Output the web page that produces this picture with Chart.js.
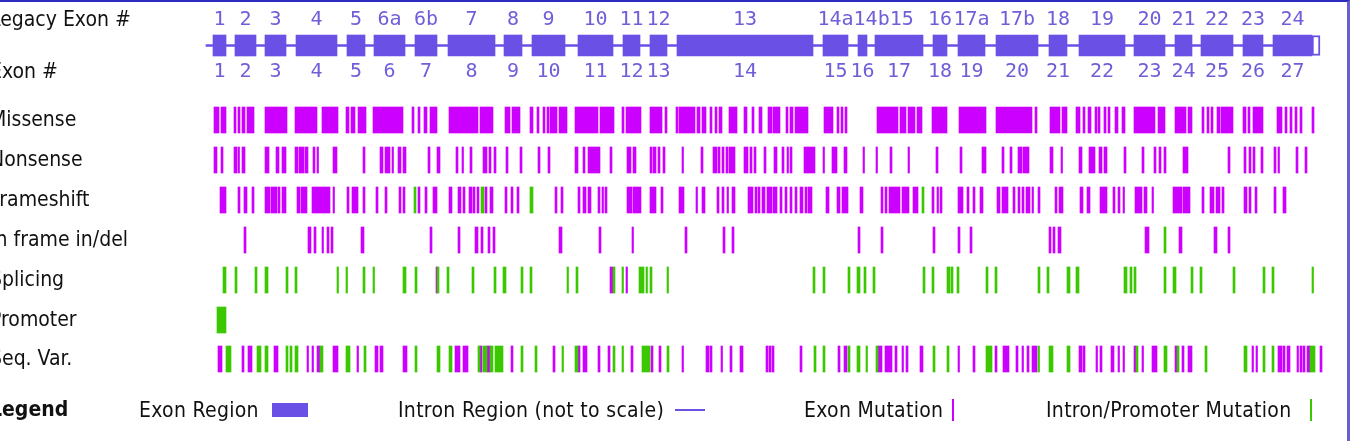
<!DOCTYPE html>
<html>
<head>
<meta charset="utf-8">
<script src="https://cdn.jsdelivr.net/npm/chart.js@4.4.1/dist/chart.umd.min.js"></script>
<style>
  html, body { margin: 0; padding: 0; background: #fff; overflow: hidden; }
  #page { position: relative; width: 1350px; height: 441px; overflow: hidden; }
  #wrap { position: absolute; left: -10px; top: 0; width: 1360px; height: 441px; }
  #frame { position: absolute; left: 0; top: 0; width: 1350px; height: 441px; box-sizing: border-box;
           border-top: 2px solid #2b2bc0; border-right: 3px solid #6a5fd0; pointer-events: none; }
  .lg { position: absolute; top: 398px; line-height: 24px; color: #111; white-space: nowrap; letter-spacing: 0.3px;
        font-family: 'DejaVu Sans Condensed', 'Liberation Sans Narrow', 'DejaVu Sans', sans-serif; font-size: 21px; }
  .sw { position: absolute; }
</style>
</head>
<body>
<div id="page">
  <div id="wrap"><canvas id="geneChart"></canvas></div>
  <span class="lg" style="left:139px">Exon Region</span>
  <span class="sw" style="left:272px;top:403px;width:36px;height:14px;background:#6b50e6"></span>
  <span class="lg" style="left:398px">Intron Region (not to scale)</span>
  <span class="sw" style="left:675px;top:409px;width:30px;height:2px;background:#6b50e6"></span>
  <span class="lg" style="left:804px">Exon Mutation</span>
  <span class="sw" style="left:952px;top:399px;width:2px;height:22px;background:#cc00ff"></span>
  <span class="lg" style="left:1046px">Intron/Promoter Mutation</span>
  <span class="sw" style="left:1310px;top:399px;width:2px;height:22px;background:#3cc800"></span>
  <div id="frame"></div>
</div>
<script>
// rows (y positions on the map) and their labels
const rowValues = [20, 72, 120, 160, 200, 240, 280, 320, 359, 410];
const rowNames = ['Legacy Exon #', 'Exon #', 'Missense', 'Nonsense', 'Frameshift',
  'In frame in/del', 'Splicing', 'Promoter', 'Seq. Var.', 'Legend'];
const trackRow = 45.5;

// exons, in map units along the gene
const exonStart = [213, 235, 265, 296, 347, 374, 415, 448, 504, 532, 578, 623, 650, 677,
  823, 858, 875, 933, 958, 996, 1049, 1079, 1134, 1175, 1201, 1243, 1273];
const exonEnd = [226, 256, 286, 337, 365, 405, 437, 495, 522, 565, 613, 640, 667, 813,
  848, 867, 923, 947, 985, 1038, 1067, 1125, 1165, 1192, 1233, 1263, 1312];
const legacyNames = ['1', '2', '3', '4', '5', '6a', '6b', '7', '8', '9', '10', '11', '12', '13',
  '14a', '14b', '15', '16', '17a', '17b', '18', '19', '20', '21', '22', '23', '24'];
const exonNames = exonStart.map((s, i) => String(i + 1));
const intron = [206, 1312];
const utr = [1312, 1320];

// mutations: [start, end] spans
const missense = [[214,219],[221,226],[234,236],[238,240],[242,245],[247,254],[265,287],[295,317],[322,338],[346,349],[351,355],[358,366],[373,403],[412,414],[418,420],[424,427],[430,437],[449,478],[480,493],[505,510],[512,520],[530,533],[537,539],[543,545],[547,549],[550,557],[559,567],[575,598],[600,614],[622,624],[626,641],[650,662],[665,667],[676,678],[679,695],[697,700],[702,706],[710,712],[715,717],[719,722],[729,737],[744,747],[752,754],[759,762],[768,772],[773,780],[786,788],[790,793],[795,808],[824,833],[837,839],[841,843],[845,847],[877,898],[900,906],[908,915],[917,922],[932,947],[959,986],[996,1032],[1035,1037],[1050,1060],[1062,1067],[1076,1080],[1083,1085],[1088,1091],[1095,1097],[1098,1100],[1104,1106],[1108,1110],[1115,1118],[1122,1125],[1134,1155],[1158,1165],[1175,1186],[1188,1192],[1202,1204],[1207,1209],[1211,1213],[1217,1220],[1221,1233],[1243,1246],[1248,1250],[1253,1263],[1277,1282],[1285,1287],[1290,1292],[1295,1297],[1300,1302],[1312,1314]];
const nonsense = [[214,217],[221,223],[234,237],[238,239.5],[242,245],[265,269],[276,279],[282,286],[295,298],[299,304],[305,308],[313,315],[317,318.5],[333,337],[363,365],[380,383],[385,390],[392,393.5],[398,401],[403,406],[428,430],[437,440],[456,458],[462,463.5],[470,472],[483,487],[489,491],[494,496],[506,508],[520,522],[538,540],[548,550],[575,578],[583,585],[588,600],[610,612],[627,631],[633,636],[650,652],[653,656],[658,660],[663,665],[682,683.5],[701,703],[713,717],[718,720],[722,724],[726,728],[729,735],[744,748],[750,752],[754,756],[764,766],[774,777],[782,784],[787,788.5],[790,792],[804,815],[823,824.5],[832,837],[844,847],[863,864.5],[876,877.5],[890,892],[908,909.5],[936,938],[960,962],[982,986],[1002,1004],[1010,1012],[1018,1022],[1023,1029],[1050,1053],[1061,1062.5],[1079,1082],[1089,1095],[1099,1102],[1104,1107],[1124,1126],[1142,1144],[1154,1156],[1159,1161],[1164,1166],[1183,1188],[1228,1230],[1244,1246],[1249,1251],[1253,1255],[1261,1263],[1274,1276],[1278,1279.5],[1296,1298],[1305,1307]];
const frameshift = [[220,226],[238,240],[244,247],[252,254],[265,270],[271,277],[278,280],[282,286],[297,300],[301,307],[312,330],[333,334.5],[347,349],[352,358],[363,365],[376,378],[385,387],[399,401],[403,405],[418,420],[425,427],[433,437],[449,452],[458,461],[463,465],[469,472],[473,475],[477,479],[485,487],[490,493],[505,507],[511,513],[517,519],[555,557],[561,563],[578,580],[583,586],[588,591],[598,600],[602,603.5],[605,607],[627,632],[633,641],[650,656],[661,663],[679,684],[696,697.5],[702,705],[717,719],[722,724],[727,728.5],[732,735],[748,753],[755,757],[758,760],[762,765],[767,772],[773,777],[780,782],[785,787],[790,792],[795,797],[800,803],[805,807],[808,812],[826,829],[837,840],[842,848],[860,863],[881,883],[885,887],[889,900],[902,909],[913,918],[932,934],[937,938.5],[940,942],[958,963],[967,969],[973,975],[980,983],[997,1000],[1002,1008],[1013,1015],[1018,1020],[1022,1024],[1026,1030],[1032,1033.5],[1038,1040],[1055,1057],[1059,1063],[1080,1083],[1087,1090],[1100,1107],[1113,1115],[1118,1120],[1123,1124.5],[1135,1142],[1144,1147],[1152,1153.5],[1173,1182],[1183,1190],[1202,1204],[1210,1214],[1216,1220],[1222,1224],[1244,1247],[1249,1251],[1255,1257],[1274,1276],[1283,1286]];
const frameshiftIntron = [[414,416],[481,484],[530,533],[922,924]];
const inframe = [[244,246],[308,311],[314,316],[322,323.5],[327,329],[331,333],[361,364],[430,432],[458,460],[475,478],[481,483],[488,490],[493,495],[559,562],[599,601],[632,633.5],[685,687],[723,725],[732,734],[858,860],[881,883],[933,935],[958,960],[970,972],[1049,1051],[1053,1055],[1058,1061],[1145,1149],[1179,1182],[1214,1217],[1228,1230]];
const inframeIntron = [[1164,1166]];
const splicing = [[436,437.5],[610,613],[626,627.5]];
const splicingIntron = [[223,226],[235,237],[255,257],[265,268],[286,288],[295,297],[337,338.5],[346,347.5],[363,365],[373,374.5],[403,406],[415,417],[437,439],[447,449],[472,474],[494,496],[503,506],[521,523],[530,532],[567,568.5],[576,578],[613,615],[622,623.5],[639,644],[646,647.5],[650,652],[667,668.5],[813,815],[823,825],[848,850],[857,860],[864,866],[873,875],[923,925],[932,934],[947,950],[951,953],[957,959],[986,988],[995,997],[1038,1040],[1047,1049],[1067,1070],[1076,1079],[1124,1127],[1130,1132],[1134,1136],[1164,1166],[1173,1176],[1191,1193],[1200,1202],[1233,1235],[1263,1265],[1272,1274],[1312,1313.5]];
const promoterIntron = [[217,226]];
const seqVar = [[218,222],[242,244],[248,252],[274,278],[307,308.5],[312,313.5],[317,320],[333,338],[357,358.5],[375,378],[380,383],[403,407],[455,460],[463,468],[480,482],[487,490],[511,513],[553,555],[578,580],[583,587],[598,600],[608,610],[631,633],[651,653],[659,661],[682,683.5],[706,709],[710,712],[721,722.5],[730,732],[740,743],[766,768],[769,771],[772,774],[800,802],[838,840],[844,847],[878,882],[885,892],[895,897],[902,903.5],[906,908],[920,923],[958,959.5],[973,975],[995,997],[1003,1009],[1016,1018],[1022,1023.5],[1027,1029],[1032,1037],[1079,1082],[1083,1085],[1096,1097.5],[1100,1102],[1111,1114],[1118,1119.5],[1123,1124.5],[1134,1136],[1142,1143.5],[1152,1157],[1175,1177],[1182,1184],[1188,1192],[1252,1253.5],[1256,1257.5],[1278,1282],[1283,1285],[1287,1290],[1297,1298.5],[1300,1302],[1303,1305],[1307,1310],[1320,1322]];
const seqVarIntron = [[226,231],[257,261],[265,268],[286,288],[290,292],[295,298],[320,323],[346,350],[364,366],[415,417],[437,440],[449,452],[478,480],[483,487],[490,493],[495,503],[521,523],[535,537],[562,563.5],[575,578],[613,615],[622,623.5],[642,650],[667,669],[814,816],[823,825],[848,850],[857,860],[866,867.5],[876,878],[933,935],[947,949],[986,992],[1038,1039.5],[1049,1053],[1067,1070],[1136,1138],[1164,1167],[1177,1179],[1205,1207],[1244,1247],[1263,1265],[1272,1274],[1310,1315]];

const EXON_COLOR = '#6b50e6';
const EXON_MUT = '#cc00ff';
const INTRON_MUT = '#3cc800';
const LABEL_FONT = "'DejaVu Sans Condensed', 'Liberation Sans Narrow', 'DejaVu Sans', sans-serif";

function spans(list, row) {
  return list.map(s => ({ x: s, y: row }));
}

function mutationSet(list, row, color) {
  return {
    data: spans(list, row),
    backgroundColor: color,
    borderWidth: 0,
    barThickness: 26,
    grouped: false
  };
}

// exon numbers above and below the track, nudged right when they would overlap
const exonLabels = {
  id: 'exonLabels',
  afterDatasetsDraw(chart) {
    const ctx = chart.ctx;
    const xs = chart.scales.x;
    const ys = chart.scales.y;
    ctx.save();
    ctx.font = "20px 'DejaVu Sans Mono', monospace";
    ctx.fillStyle = '#6e5ed8';
    ctx.textBaseline = 'middle';
    ctx.textAlign = 'left';
    [[legacyNames, rowValues[0]], [exonNames, rowValues[1]]].forEach(([names, row]) => {
      let lastRight = -Infinity;
      names.forEach((name, i) => {
        const cx = xs.getPixelForValue((exonStart[i] + exonEnd[i]) / 2);
        const w = ctx.measureText(name).width;
        const left = Math.max(cx - w / 2, lastRight);
        ctx.fillText(name, left, ys.getPixelForValue(row));
        lastRight = left + w;
      });
    });
    ctx.restore();
  }
};

new Chart(document.getElementById('geneChart'), {
  type: 'bar',
  data: {
    datasets: [
      { data: spans([intron], trackRow), backgroundColor: EXON_COLOR, borderWidth: 0, barThickness: 2, grouped: false },
      { data: spans(exonStart.map((s, i) => [s, exonEnd[i]]), trackRow), backgroundColor: EXON_COLOR, borderWidth: 0, barThickness: 21, grouped: false },
      { data: spans([utr], trackRow), backgroundColor: '#fff', borderColor: EXON_COLOR, borderWidth: 2, borderSkipped: false, barThickness: 20, grouped: false },
      mutationSet(missense, rowValues[2], EXON_MUT),
      mutationSet(nonsense, rowValues[3], EXON_MUT),
      mutationSet(frameshift, rowValues[4], EXON_MUT),
      mutationSet(frameshiftIntron, rowValues[4], INTRON_MUT),
      mutationSet(inframe, rowValues[5], EXON_MUT),
      mutationSet(inframeIntron, rowValues[5], INTRON_MUT),
      mutationSet(splicingIntron, rowValues[6], INTRON_MUT),
      mutationSet(splicing, rowValues[6], EXON_MUT),
      mutationSet(promoterIntron, rowValues[7], INTRON_MUT),
      mutationSet(seqVarIntron, rowValues[8], INTRON_MUT),
      mutationSet(seqVar, rowValues[8], EXON_MUT)
    ]
  },
  options: {
    indexAxis: 'y',
    responsive: true,
    maintainAspectRatio: false,
    animation: false,
    layout: { padding: 0 },
    plugins: {
      legend: { display: false },
      tooltip: { enabled: false }
    },
    scales: {
      x: {
        type: 'linear',
        min: 200,
        max: 1350,
        offset: false,
        display: false
      },
      y: {
        type: 'linear',
        min: 0,
        max: 441,
        reverse: true,
        offset: false,
        grid: { display: false },
        border: { display: false },
        afterBuildTicks(scale) {
          scale.ticks = rowValues.map(v => ({ value: v }));
        },
        afterFit(scale) {
          scale.width = 210;
          scale.paddingTop = 0;
          scale.paddingBottom = 0;
        },
        ticks: {
          autoSkip: false,
          crossAlign: 'far',
          padding: 0,
          labelOffset: 1,
          color: '#111',
          font: (ctx) => ({
            family: LABEL_FONT,
            size: 21,
            weight: ctx.tick && ctx.tick.value === 410 ? 'bold' : 'normal'
          }),
          callback: (value) => rowNames[rowValues.indexOf(value)]
        }
      }
    }
  },
  plugins: [exonLabels]
});
</script>
</body>
</html>
